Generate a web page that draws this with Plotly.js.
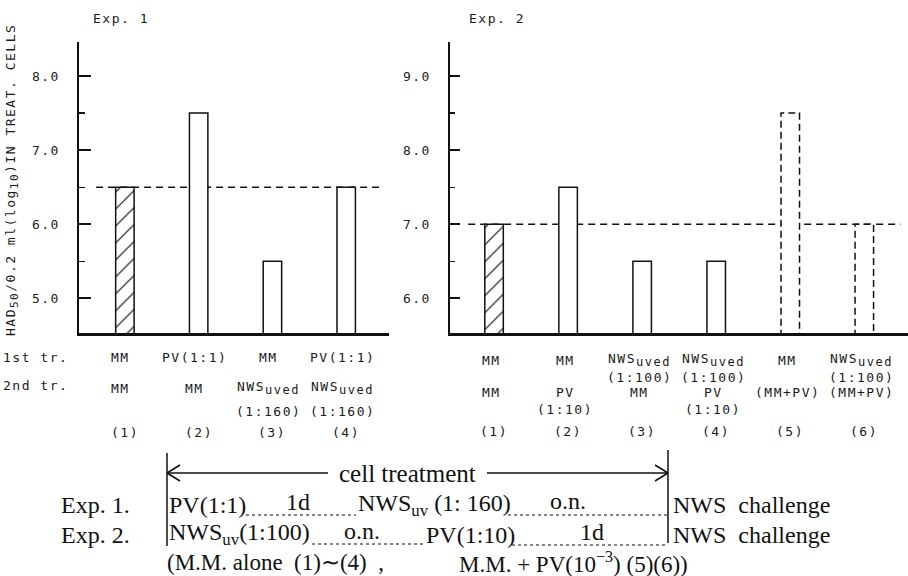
<!DOCTYPE html>
<html>
<head>
<meta charset="utf-8">
<script src="https://cdn.plot.ly/plotly-3.0.1.min.js"></script>
<style>
  html, body { margin: 0; padding: 0; background: #fff; }
  #chart { width: 908px; height: 576px; }
  text[style*="Sans Mono"] { letter-spacing: 1.5px; }
</style>
</head>
<body>
<div id="chart"></div>
<script>
// ---------------- DATA ----------------
const UVED = 'NWS<sub><span style="font-size:12px">uved</span></sub>';
const exp1Labels = ['(1)', '(2)', '(3)', '(4)'];
const exp1Values = [6.5, 7.5, 5.5, 6.5];
const exp1Control = 6.5;
const exp1FirstTr = ['MM', 'PV(1:1)', 'MM', 'PV(1:1)'];
const exp1SecondTr = ['MM', 'MM', UVED, UVED];
const exp1SecondDose = ['', '', '(1:160)', '(1:160)'];

const exp2Labels = ['(1)', '(2)', '(3)', '(4)', '(5)', '(6)'];
const exp2Values = [7.0, 7.5, 6.5, 6.5, 8.5, 7.0];
const exp2Control = 7.0;
const exp2FirstTr = ['MM', 'MM', UVED, UVED, 'MM', UVED];
const exp2FirstDose = ['', '', '(1:100)', '(1:100)', '', '(1:100)'];
const exp2SecondTr = ['MM', 'PV', 'MM', 'PV', '(MM+PV)', '(MM+PV)'];
const exp2SecondDose = ['', '(1:10)', '', '(1:10)', '', ''];
const exp2Medium = ['MM', 'MM', 'MM', 'MM', 'MM+PV', 'MM+PV'];

const yTitle = 'HAD<sub><span style="font-size:11px">50</span></sub>/0.2 ml(log<sub><span style="font-size:11px">10</span></sub>)IN TREAT. CELLS';

// ---------------- LAYOUT HELPERS ----------------
const W = 908, H = 576;
const px = v => v / W;
const py = v => 1 - v / H;
const INK = '#111';
const MONO = 'DejaVu Sans Mono';
const SERIF = 'Liberation Serif';
const barW = 0.25;

const x1 = exp1Labels.map((_, i) => i + 1);
const x2 = exp2Labels.map((_, i) => i + 1);
const y1Range = [4.53, 8.46];
const y2Range = [5.53, 9.46];

const solid2 = exp2Medium.map(m => m === 'MM');

const traces = [
  {
    type: 'bar', x: x1, y: exp1Values, xaxis: 'x', yaxis: 'y', width: barW,
    hoverinfo: 'skip',
    marker: {
      color: 'white',
      line: { color: INK, width: 1.5 },
      pattern: { shape: x1.map((_, i) => i === 0 ? '/' : ''), fgcolor: INK, bgcolor: 'white', size: 12, solidity: 0.1 }
    }
  },
  {
    type: 'bar', x: x2, y: exp2Values, xaxis: 'x2', yaxis: 'y2', width: barW,
    hoverinfo: 'skip',
    marker: {
      color: 'white',
      line: { color: INK, width: solid2.map(s => s ? 1.5 : 0) },
      pattern: { shape: x2.map((_, i) => i === 0 ? '/' : ''), fgcolor: INK, bgcolor: 'white', size: 12, solidity: 0.1 }
    }
  }
];

// dashed outlines for bars with PV in the medium
const ox = [], oy = [];
exp2Values.forEach((v, i) => {
  if (solid2[i]) return;
  const c = x2[i];
  const b = y2Range[0] - 0.2;
  ox.push(c - barW / 2, c - barW / 2, c + barW / 2, c + barW / 2, null);
  oy.push(b, v, v, b, null);
});
traces.push({
  type: 'scatter', mode: 'lines', x: ox, y: oy, xaxis: 'x2', yaxis: 'y2',
  line: { color: INK, width: 1.5, dash: '7px,4px' }, hoverinfo: 'skip', showlegend: false
});

const yAxisBase = {
  domain: [py(333), py(42)],
  showline: true, linewidth: 2.5, linecolor: INK,
  ticks: 'inside', ticklen: 12, tickwidth: 1.5, tickcolor: INK,
  dtick: 1, tick0: 0, tickformat: '.1f',
  showgrid: false, zeroline: false, ticklabelstandoff: 14,
  tickfont: { family: MONO, size: 13, color: '#222' },
  minor: { dtick: 0.5, tick0: 0, ticks: 'inside', ticklen: 6, tickwidth: 1.2, tickcolor: INK, showgrid: false },
  fixedrange: true
};
const xAxisBase = {
  showline: true, linewidth: 2.5, linecolor: INK,
  showticklabels: false, ticks: '', showgrid: false, zeroline: false, fixedrange: true
};

const annotations = [];
function addText(text, x, y, opts) {
  annotations.push(Object.assign({
    text: text, x: x, y: y, xref: 'paper', yref: 'paper',
    showarrow: false, xanchor: 'center', yanchor: 'middle',
    font: { family: MONO, size: 13, color: '#1a1a1a' }, borderpad: 0
  }, opts || {}));
}

// panel titles
addText('Exp. 1', px(92), py(18), { xanchor: 'left' });
addText('Exp. 2', px(468), py(18), { xanchor: 'left' });
// y axis title
addText(yTitle, px(12), py(180), { textangle: -90 });
// row labels
addText('1st tr.', px(2), py(357), { xanchor: 'left' });
addText('2nd tr.', px(2), py(385), { xanchor: 'left' });

function catLabels(xs, arr, axis, yPix, shift) {
  arr.forEach((t, i) => {
    if (!t) return;
    addText(t, xs[i], py(yPix), { xref: axis, xshift: shift });
  });
}
catLabels(x1, exp1FirstTr, 'x', 357, -4);
catLabels(x1, exp1SecondTr, 'x', 388, -4);
catLabels(x1, exp1SecondDose, 'x', 411, -4);
catLabels(x1, exp1Labels, 'x', 432, 0);

catLabels(x2, exp2FirstTr, 'x2', 360, -3);
catLabels(x2, exp2FirstDose, 'x2', 377, -3);
catLabels(x2, exp2SecondTr, 'x2', 392, -3);
catLabels(x2, exp2SecondDose, 'x2', 409, -3);
catLabels(x2, exp2Labels, 'x2', 431, 0);

// bottom protocol diagram
const sf = { family: SERIF, size: 24, color: '#111' };
const sf3 = { family: SERIF, size: 23, color: '#111' };
addText('cell treatment', px(407), py(473), { font: { family: SERIF, size: 25, color: '#111' } });
addText('Exp. 1.', px(60), py(505), { xanchor: 'left', font: sf });
addText('Exp. 2.', px(60), py(535), { xanchor: 'left', font: sf });
addText('PV(1:1)', px(168), py(505), { xanchor: 'left', font: sf });
addText('1d', px(298), py(502), { font: sf });
addText('NWS<sub>uv</sub> (1: 160)', px(357), py(505), { xanchor: 'left', font: sf });
addText('o.n.', px(568), py(501), { font: sf });
addText('NWS  challenge', px(672), py(505), { xanchor: 'left', font: sf });
addText('NWS<sub>uv</sub>(1:100)', px(168), py(534), { xanchor: 'left', font: sf });
addText('o.n.', px(362), py(531), { font: sf });
addText('PV(1:10)', px(425), py(535), { xanchor: 'left', font: sf });
addText('1d', px(592), py(532), { font: sf });
addText('NWS  challenge', px(672), py(535), { xanchor: 'left', font: sf });
addText('(M.M. alone  (1)∼(4)  ,', px(166), py(562), { xanchor: 'left', font: sf3 });
addText('M.M. + PV(10<sup>−3</sup>) (5)(6))', px(458), py(562), { xanchor: 'left', font: sf3 });

const shapes = [
  // control reference lines
  { type: 'line', xref: 'x', yref: 'y', x0: 0.61, x1: 4.51, y0: exp1Control, y1: exp1Control, layer: 'below',
    line: { color: INK, width: 1.5, dash: '7px,5px' } },
  { type: 'line', xref: 'x2', yref: 'y2', x0: 0.65, x1: 6.49, y0: exp2Control, y1: exp2Control, layer: 'below',
    line: { color: INK, width: 1.5, dash: '7px,5px' } }
];
function pline(xa, ya, xb, yb, w, dash) {
  shapes.push({ type: 'line', xref: 'paper', yref: 'paper', x0: px(xa), y0: py(ya), x1: px(xb), y1: py(yb),
    line: { color: INK, width: w || 1.5, dash: dash || 'solid' } });
}
// vertical bounds
pline(167, 453, 167, 546, 1.5);
pline(668, 450, 668, 543, 1.5);
// arrow
pline(167, 473, 328, 473, 1.5);
pline(487, 473, 668, 473, 1.5);
pline(167, 473, 180, 465, 1.5); pline(167, 473, 180, 481, 1.5);
pline(668, 473, 655, 465, 1.5); pline(668, 473, 655, 481, 1.5);
// leader dots
pline(246, 515, 356, 515, 1.2, 'dot');
pline(508, 515, 667, 515, 1.2, 'dot');
pline(312, 544, 424, 544, 1.2, 'dot');
pline(512, 545, 667, 545, 1.2, 'dot');

const layout = {
  width: W, height: H,
  margin: { l: 0, r: 0, t: 0, b: 0 },
  paper_bgcolor: 'white', plot_bgcolor: 'rgba(0,0,0,0)',
  showlegend: false, bargap: 0,
  xaxis: Object.assign({}, xAxisBase, { domain: [px(79), px(389)], range: [0.378, 4.58], anchor: 'y' }),
  yaxis: Object.assign({}, yAxisBase, { range: y1Range, anchor: 'x' }),
  xaxis2: Object.assign({}, xAxisBase, { domain: [px(450), 1], range: [0.405, 6.59], anchor: 'y2' }),
  yaxis2: Object.assign({}, yAxisBase, { range: y2Range, anchor: 'x2', ticklen: 10, minor: Object.assign({}, yAxisBase.minor, { ticklen: 5 }) }),
  annotations: annotations,
  shapes: shapes
};

Plotly.newPlot('chart', traces, layout, { staticPlot: true, displayModeBar: false });
</script>
</body>
</html>
